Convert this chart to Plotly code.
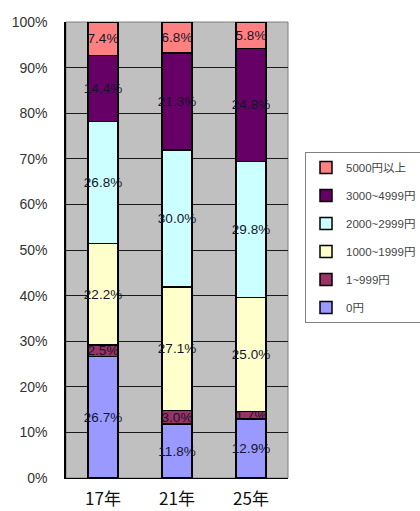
import plotly.graph_objects as go

# Survey years (x categories)
years = ["17年", "21年", "25年"]

# Share of respondents per amount band (%), stacked bottom to top
band_0 = [26.7, 11.8, 12.9]          # 0円
band_1_999 = [2.5, 3.0, 1.7]         # 1~999円
band_1000_1999 = [22.2, 27.1, 25.0]  # 1000~1999円
band_2000_2999 = [26.8, 30.0, 29.8]  # 2000~2999円
band_3000_4999 = [14.4, 21.3, 24.8]  # 3000~4999円
band_5000_up = [7.4, 6.8, 5.8]       # 5000円以上

series_names = ["0円", "1~999円", "1000~1999円", "2000~2999円", "3000~4999円", "5000円以上"]
series_values = [band_0, band_1_999, band_1000_1999, band_2000_2999, band_3000_4999, band_5000_up]
series_colors = ["#9999ff", "#993366", "#ffffcc", "#ccffff", "#660066", "#ff8080"]

y_ticks = list(range(0, 101, 10))

FONT = "Liberation Sans, Arial, Noto Sans CJK JP, sans-serif"

fig = go.Figure()
n = len(series_names)
for i, (name, vals, color) in enumerate(zip(series_names, series_values, series_colors)):
    fig.add_trace(go.Bar(
        x=years,
        y=vals,
        name=name,
        legendgroup=name,
        legendrank=(n - i) * 10,  # highest band listed first in the legend
        marker=dict(color=color, line=dict(color="#000000", width=1.5)),
        texttemplate="%{y:.1f}%",
        textposition="inside",
        insidetextanchor="middle",
        textangle=0,
        constraintext="none",
        textfont=dict(family=FONT, size=13.5, color="#15152a"),
    ))

fig.update_layout(
    barmode="stack",
    bargap=0.595,
    width=420,
    height=511,
    margin=dict(l=66, r=132, t=22, b=33),
    paper_bgcolor="#ffffff",
    plot_bgcolor="#c0c0c0",
    font=dict(family=FONT, color="#222222"),
    showlegend=True,
    legend=dict(
        xref="container", yref="container",
        x=305 / 420, y=1 - 152 / 511, xanchor="left", yanchor="top",
        traceorder="grouped",
        tracegroupgap=9,
        bgcolor="#ffffff",
        bordercolor="#808080",
        borderwidth=1,
        font=dict(family=FONT, size=11.5, color="#444444"),
        itemwidth=30,
    ),
    xaxis=dict(
        showgrid=False,
        showline=True, linecolor="#000000", linewidth=1,
        ticks="", tickfont=dict(family="Noto Sans CJK JP, sans-serif", size=17, color="#111111"),
        ticklabelstandoff=6,
        automargin=False,
        fixedrange=True,
    ),
    yaxis=dict(
        range=[0, 100],
        tickvals=y_ticks,
        ticktext=[f"{v}%" for v in y_ticks],
        showgrid=True, gridcolor="#1a1a1a", gridwidth=1,
        showline=True, linecolor="#000000", linewidth=1.5,
        zeroline=False,
        ticks="", ticklen=0,
        tickfont=dict(family=FONT, size=14, color="#333333"),
        ticklabelstandoff=14,
        automargin=False,
        fixedrange=True,
    ),
)

# Frame around the plotting area
fig.add_shape(type="rect", xref="paper", yref="paper", x0=0, y0=0, x1=1, y1=1,
              line=dict(color="#808080", width=1), layer="below")

fig.write_html("out.html")
